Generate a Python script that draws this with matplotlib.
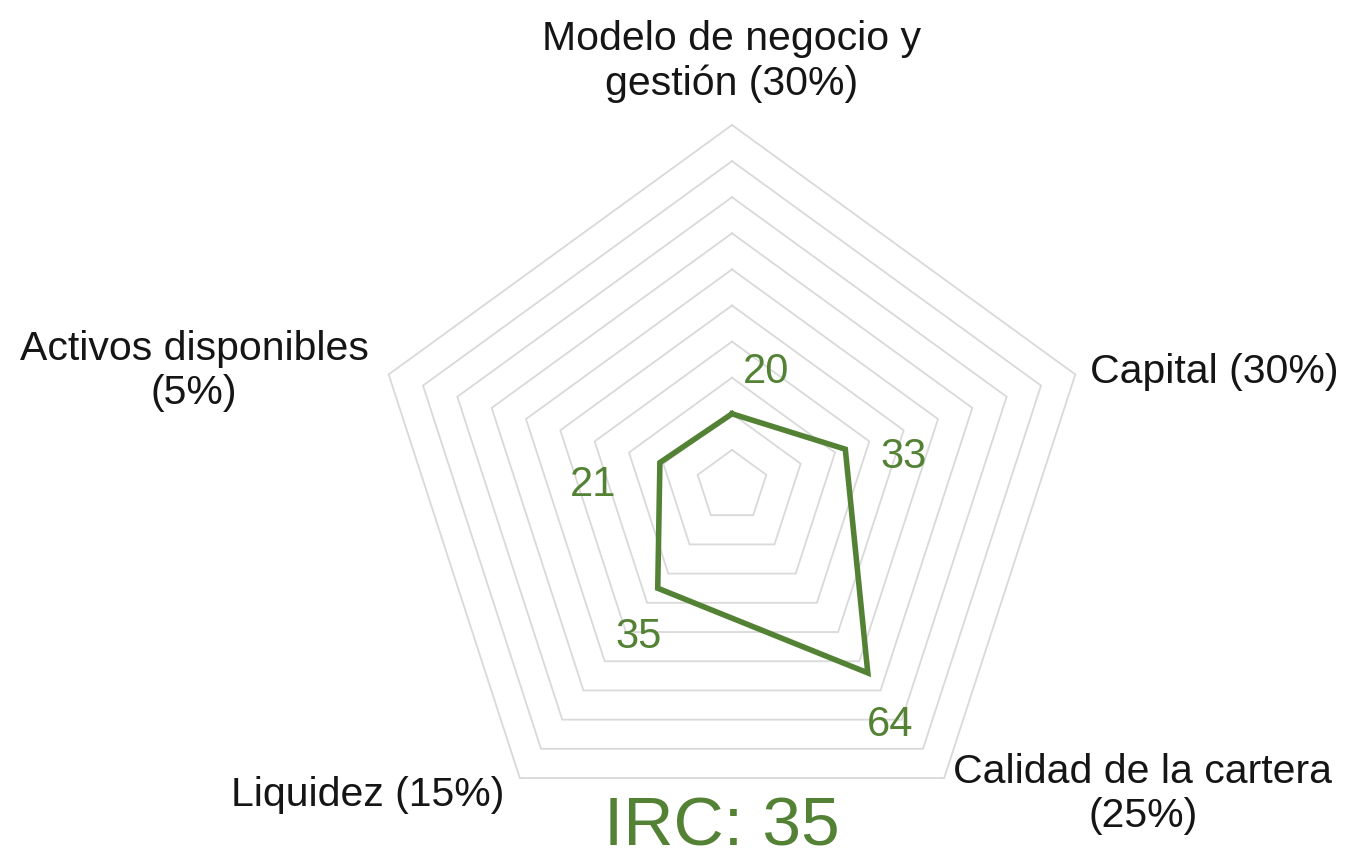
import numpy as np
import matplotlib
matplotlib.use('Agg')
import matplotlib.pyplot as plt

# ---- data ----
categories = ['Modelo de negocio y\ngestión (30%)',
              'Capital (30%)',
              'Calidad de la cartera\n(25%)',
              'Liquidez (15%)',
              'Activos disponibles\n(5%)']
values = [20, 33, 64, 35, 21]
ring_levels = [10, 20, 30, 40, 50, 60, 70, 80, 90, 100]
score_label = 'IRC: 35'

# ---- style ----
GREEN = '#548235'
GRID = '#d9d9d9'
plt.rcParams['font.family'] = ['Liberation Sans', 'DejaVu Sans']

W, H = 1345, 860
fig = plt.figure(figsize=(W / 100, H / 100), dpi=100)
cx, cy, R = 732, 486, 361
ax = fig.add_axes([(cx - R) / W, (H - cy - R) / H, 2 * R / W, 2 * R / H],
                  projection='polar')
ax.set_theta_offset(np.pi / 2)
ax.set_theta_direction(-1)
ax.set_ylim(0, max(ring_levels))
ax.set_xticks([])
ax.set_yticks([])
ax.grid(False)
ax.spines['polar'].set_visible(False)
ax.patch.set_visible(False)

n = len(categories)
theta = np.arange(n) * 2 * np.pi / n
theta_closed = np.append(theta, theta[0])

for lvl in ring_levels:
    ax.plot(theta_closed, [lvl] * (n + 1), color=GRID, lw=1.3, zorder=1,
            clip_on=False, solid_joinstyle='miter')

vals_closed = values + values[:1]
ax.plot(theta_closed, vals_closed, color=GREEN, lw=4.0, zorder=3,
        clip_on=False, solid_joinstyle='miter')

# axis labels (offsets in pixels from the outer vertex)
label_layout = [(0, 22, 'center', 'bottom'),
                (15, 2, 'left', 'center'),
                (9, -16, 'left', 'center'),
                (-15, -17, 'right', 'center'),
                (-20, 3, 'right', 'center')]
for t, lab, (dx, dy, ha, va) in zip(theta, categories, label_layout):
    ax.annotate(lab, xy=(t, max(ring_levels)), xytext=(dx, dy),
                textcoords='offset pixels', ha=ha, va=va,
                multialignment='center', fontsize=29.5, color='#151515',
                annotation_clip=False)

# value labels
value_offsets = [(34, 42), (58, -8), (22, -52), (-19, -49), (-67, -22)]
for t, v, (dx, dy) in zip(theta, values, value_offsets):
    ax.annotate(str(v), xy=(t, v), xytext=(dx, dy),
                textcoords='offset pixels', ha='center', va='center',
                fontsize=30, color=GREEN, annotation_clip=False)

fig.text(722 / W, 1 / H, score_label, ha='center', va='bottom',
         fontsize=50, color=GREEN)

fig.savefig('out.png', dpi=100)
